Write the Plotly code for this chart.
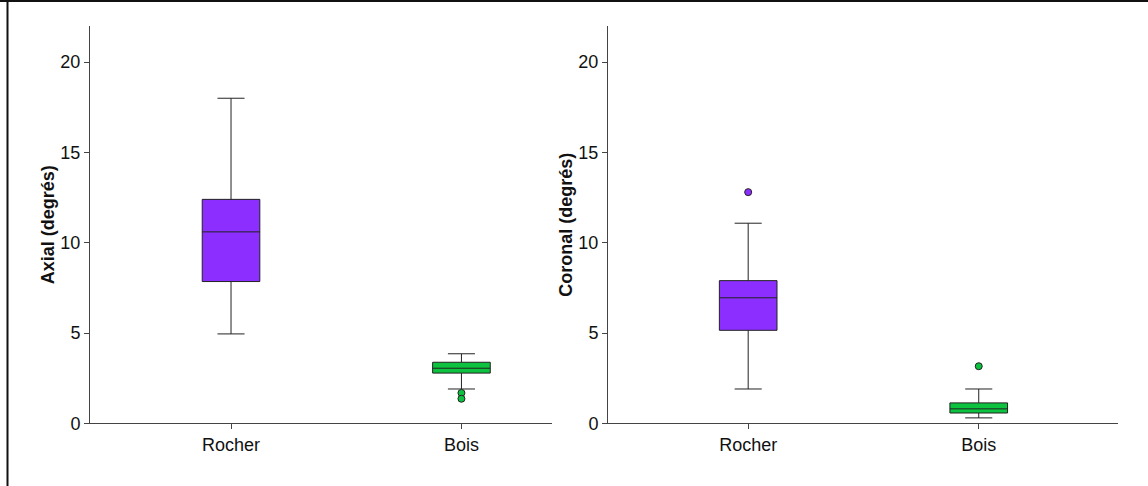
import plotly.graph_objects as go

categories = ["Rocher", "Bois"]
colors = ["#8c2eff", "#0cc23e"]

# Axial (left)
axial_lower = [4.95, 1.9]
axial_q1 = [7.85, 2.78]
axial_median = [10.6, 3.05]
axial_q3 = [12.4, 3.38]
axial_upper = [18.0, 3.85]
axial_outliers = {"Bois": [1.68, 1.36]}

# Coronal (right)
coronal_lower = [1.9, 0.3]
coronal_q1 = [5.15, 0.57]
coronal_median = [6.95, 0.8]
coronal_q3 = [7.9, 1.13]
coronal_upper = [11.08, 1.9]
coronal_outliers = {"Rocher": [12.8], "Bois": [3.16]}

yticks = [0, 5, 10, 15, 20]

fig = go.Figure()

def add_panel(xa, ya, lower, q1, med, q3, upper, outliers):
    for i, cat in enumerate(categories):
        fig.add_trace(go.Box(
            x=[cat], lowerfence=[lower[i]], q1=[q1[i]], median=[med[i]],
            q3=[q3[i]], upperfence=[upper[i]],
            fillcolor=colors[i], line=dict(color="#222222", width=1),
            width=0.25, whiskerwidth=0.47, boxpoints=False,
            xaxis=xa, yaxis=ya, showlegend=False, hoverinfo="skip",
        ))
        if cat in outliers:
            vals = outliers[cat]
            fig.add_trace(go.Scatter(
                x=[cat] * len(vals), y=vals, mode="markers",
                marker=dict(color=colors[i], size=7,
                            line=dict(color="#222222", width=1)),
                xaxis=xa, yaxis=ya, showlegend=False, hoverinfo="skip",
            ))

add_panel("x", "y", axial_lower, axial_q1, axial_median, axial_q3, axial_upper, axial_outliers)
add_panel("x2", "y2", coronal_lower, coronal_q1, coronal_median, coronal_q3, coronal_upper, coronal_outliers)

W, H = 1148, 486
ybot = (H - 423.3) / H
ytop = (H - 26) / H

axis_font = dict(family="Liberation Sans, Arial, sans-serif", size=18, color="#111")
title_font = dict(family="Liberation Sans, Arial, sans-serif", size=18, color="#111")

def xaxis(domain, rng, anchor):
    return dict(domain=domain, anchor=anchor, type="category", categoryorder="array",
                categoryarray=categories, range=rng, showgrid=False,
                zeroline=False, showline=True, linecolor="#444", linewidth=1,
                ticks="outside", ticklen=5, tickcolor="#444", tickfont=axis_font,
                automargin=False)

def yaxis(anchor, title):
    return dict(domain=[ybot, ytop], anchor=anchor, range=[0, 22],
                tickvals=yticks, showgrid=False, zeroline=False,
                showline=True, linecolor="#444", linewidth=1,
                ticks="outside", ticklen=5, tickcolor="#444", tickfont=axis_font,
                automargin=False,
                title=dict(text="<b>" + title + "</b>", font=title_font, standoff=1))

fig.update_layout(
    width=W, height=H,
    margin=dict(l=0, r=0, t=0, b=0, pad=0, autoexpand=False),
    paper_bgcolor="white", plot_bgcolor="white",
    xaxis=xaxis([90 / W, 552 / W], [-0.612, 1.393], "y"),
    yaxis=yaxis("x", "Axial (degrés)"),
    xaxis2=xaxis([608 / W, 1118 / W], [-0.608, 1.604], "y2"),
    yaxis2=yaxis("x2", "Coronal (degrés)"),
    shapes=[
        dict(type="line", xref="paper", yref="paper", x0=0, x1=1,
             y0=1 - 1 / H, y1=1 - 1 / H, line=dict(color="#111", width=2)),
        dict(type="line", xref="paper", yref="paper", x0=7.5 / W, x1=7.5 / W,
             y0=0, y1=1, line=dict(color="#111", width=2)),
    ],
)

fig.write_html(
    "out.html",
    config={"displayModeBar": False},
    post_script="document.body.style.margin='0';document.body.style.overflow='hidden';",
)
